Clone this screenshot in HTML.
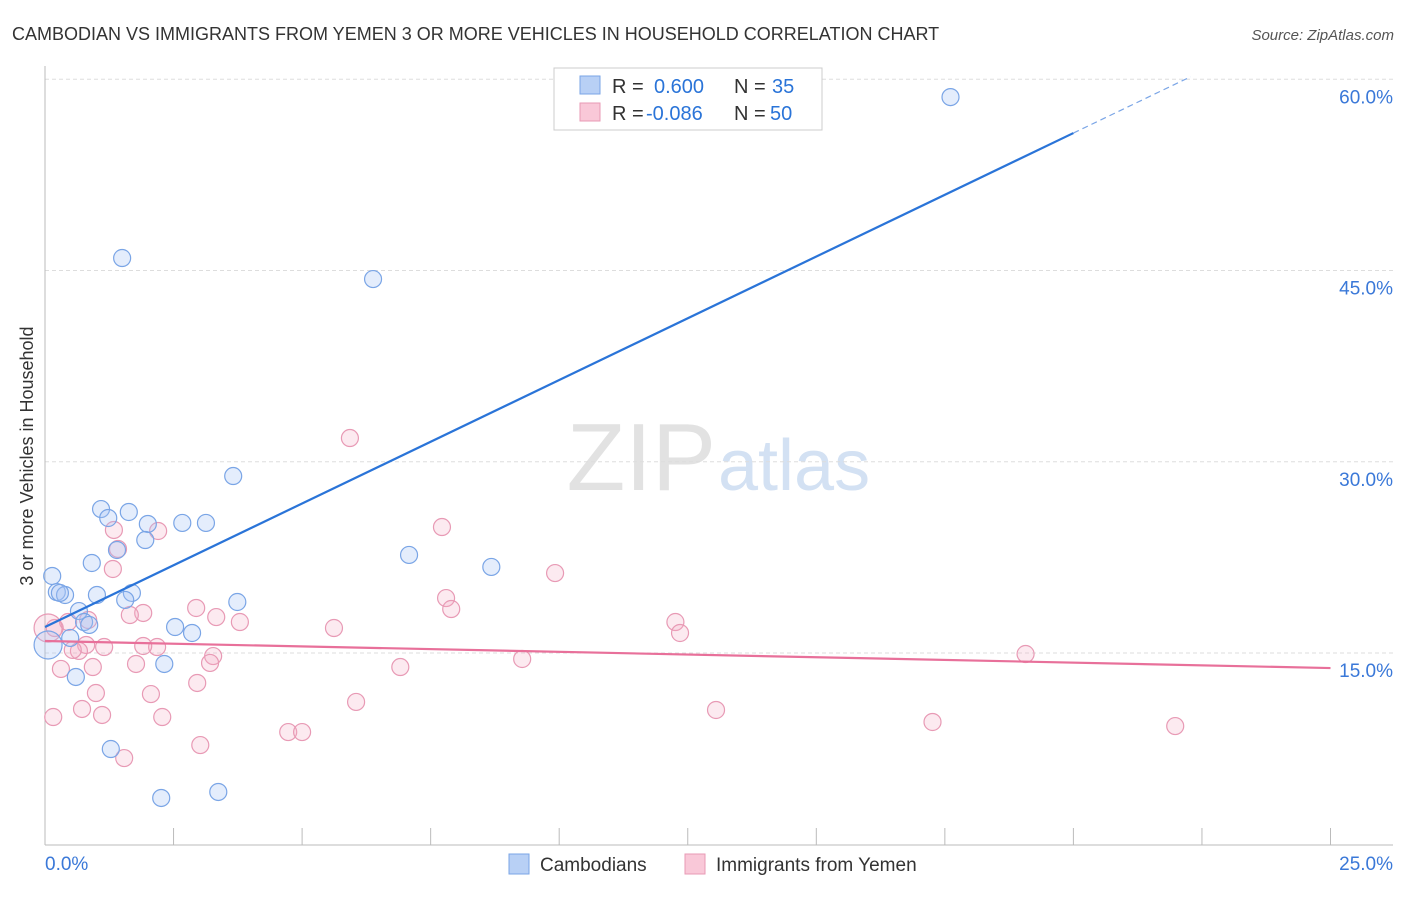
<!DOCTYPE html>
<html><head><meta charset="utf-8"><style>
body{margin:0;background:#fff;font-family:"Liberation Sans",sans-serif;}
svg text{font-family:"Liberation Sans",sans-serif;}
</style></head><body>
<svg width="1406" height="892" viewBox="0 0 1406 892">
<text x="12" y="40" font-size="18" fill="#333">CAMBODIAN VS IMMIGRANTS FROM YEMEN 3 OR MORE VEHICLES IN HOUSEHOLD CORRELATION CHART</text>
<text x="1394" y="40" font-size="15" fill="#555" font-style="italic" text-anchor="end">Source: ZipAtlas.com</text>
<text x="33" y="456" font-size="18" fill="#333" text-anchor="middle" transform="rotate(-90 33 456)">3 or more Vehicles in Household</text>
<text x="716" y="490" font-size="96" fill="#e2e2e2" text-anchor="end" font-family="Liberation Serif">ZIP</text>
<text x="718" y="490" font-size="72" fill="#d3e1f3">atlas</text>
<g id="grid"></g><g id="axes"></g>
<g id="pink"></g><g id="blue"></g><g id="lines"></g>
<g>
<rect x="554" y="68" width="268" height="62" fill="#fff" stroke="#ccc"/>
<rect x="580" y="76" width="20" height="18" fill="#b8d0f5" stroke="#7aa5e6"/>
<rect x="580" y="103" width="20" height="18" fill="#f9c8d8" stroke="#e89ab5"/>
<text x="612" y="93" font-size="20" fill="#333">R = </text><text x="654" y="93" font-size="20" fill="#2a74d8">0.600</text>
<text x="734" y="93" font-size="20" fill="#333">N = </text><text x="772" y="93" font-size="20" fill="#2a74d8">35</text>
<text x="612" y="120" font-size="20" fill="#333">R = </text><text x="646" y="120" font-size="20" fill="#2a74d8">-0.086</text>
<text x="734" y="120" font-size="20" fill="#333">N = </text><text x="770" y="120" font-size="20" fill="#2a74d8">50</text>
</g>
<g>
<rect x="509" y="854" width="20" height="20" fill="#b8d0f5" stroke="#7aa5e6"/>
<text x="540" y="871" font-size="19" fill="#333">Cambodians</text>
<rect x="685" y="854" width="20" height="20" fill="#f9c8d8" stroke="#e89ab5"/>
<text x="716" y="871" font-size="19" fill="#333">Immigrants from Yemen</text>
</g>
</svg>
<script>
const xTicks=[0,2.5,5,7.5,10,12.5,15,17.5,20,22.5,25];
const yTicks=[15,30,45,60];
const blueX=[17.61,1.50,6.38,3.66,1.09,1.63,1.23,2.00,2.67,3.13,1.95,1.40,7.08,8.68,0.91,0.14,0.23,0.39,1.01,1.69,1.56,3.74,0.66,0.76,0.86,2.53,2.86,0.49,0.06,2.32,0.60,1.28,2.26,3.37,0.29];
const blueY=[58.6,45.98,44.33,28.88,26.29,26.06,25.59,25.12,25.2,25.2,23.86,23.08,22.69,21.75,22.06,21.04,19.78,19.55,19.55,19.71,19.16,19.0,18.29,17.43,17.2,17.04,16.57,16.18,15.63,14.14,13.12,7.47,3.63,4.1,19.71];
const pinkX=[5.93,7.72,2.20,1.34,1.42,9.92,1.32,7.80,7.90,1.91,2.94,3.33,1.65,3.79,12.26,12.35,5.62,0.19,0.45,0.06,0.80,1.15,2.18,1.91,0.66,3.27,9.28,19.07,1.77,0.93,3.21,6.91,0.31,0.99,2.06,2.96,0.72,1.11,2.28,6.05,0.16,13.05,17.26,21.98,4.73,5.0,3.02,1.54,0.84,0.54];
const pinkY=[31.86,24.88,24.57,24.65,23.16,21.27,21.59,19.31,18.45,18.14,18.53,17.82,17.98,17.43,17.43,16.57,16.96,16.96,17.43,16.96,15.63,15.47,15.47,15.55,15.16,14.76,14.53,14.92,14.14,13.9,14.22,13.9,13.75,11.86,11.78,12.65,10.61,10.14,9.98,11.16,9.98,10.53,9.59,9.27,8.8,8.8,7.78,6.76,17.59,15.24];
const blueTrend=[17.04,55.78]; // at x=0 and x=20
const pinkTrend=[15.94,13.82]; // at x=0 and x=25
const NS='http://www.w3.org/2000/svg';
const sx=v=>45+v*51.42, sy=v=>653-(v-15)*12.75;
function mk(p,t,a){const e=document.createElementNS(NS,t);for(const k in a)e.setAttribute(k,a[k]);document.getElementById(p).appendChild(e);return e;}
yTicks.forEach(t=>{
 const l=mk('grid','line',{x1:45,x2:1393,y1:sy(t),y2:sy(t),stroke:'#ddd','stroke-dasharray':'4,3'});
 
 
 const tx=mk('grid','text',{x:1393,y:sy(t)+24,'font-size':19,fill:'#3a78d8','text-anchor':'end'});tx.textContent=t.toFixed(1)+'%';
 
 
});
const ax=mk('axes','line',{x1:45,x2:1393,y1:845,y2:845,stroke:'#bbb'});


const ay=mk('axes','line',{x1:45,x2:45,y1:66,y2:845,stroke:'#bbb'});


xTicks.forEach(t=>{const l=mk('axes','line',{x1:sx(t),x2:sx(t),y1:828,y2:845,stroke:'#bbb'});
 
 });
[[0,'start',45],[25,'end',1393]].forEach(([t,a,x])=>{const tx=mk('axes','text',{x:x,y:870,'font-size':19,fill:'#3a78d8','text-anchor':a});tx.textContent=t.toFixed(1)+'%';
 
 });
function pts(g,X,Y,fill,stroke,name){X.forEach((x,i)=>{const r=(x<0.1)?14:8.5;
 const c=mk(g,'circle',{cx:sx(x),cy:sy(Y[i]),r:r,fill:fill,stroke:stroke,'stroke-width':1.2});
 
 });}
pts('pink',pinkX,pinkY,'rgba(244,170,195,0.25)','#e89ab5','yemen-point');
pts('blue',blueX,blueY,'rgba(164,194,244,0.3)','#7aa5e6','cambodian-point');
const bl=mk('lines','line',{x1:sx(0),y1:sy(blueTrend[0]),x2:sx(20),y2:sy(blueTrend[1]),stroke:'#2a74d8','stroke-width':2.2});


const slope=(blueTrend[1]-blueTrend[0])/20;
const bd=mk('lines','line',{x1:sx(20),y1:sy(blueTrend[1]),x2:sx(22.28),y2:sy(blueTrend[0]+slope*22.28),stroke:'#7aa5e6','stroke-width':1.2,'stroke-dasharray':'6,4'});


const pl=mk('lines','line',{x1:sx(0),y1:sy(pinkTrend[0]),x2:sx(25),y2:sy(pinkTrend[1]),stroke:'#e8709a','stroke-width':2.2});


</script>
</body></html>
